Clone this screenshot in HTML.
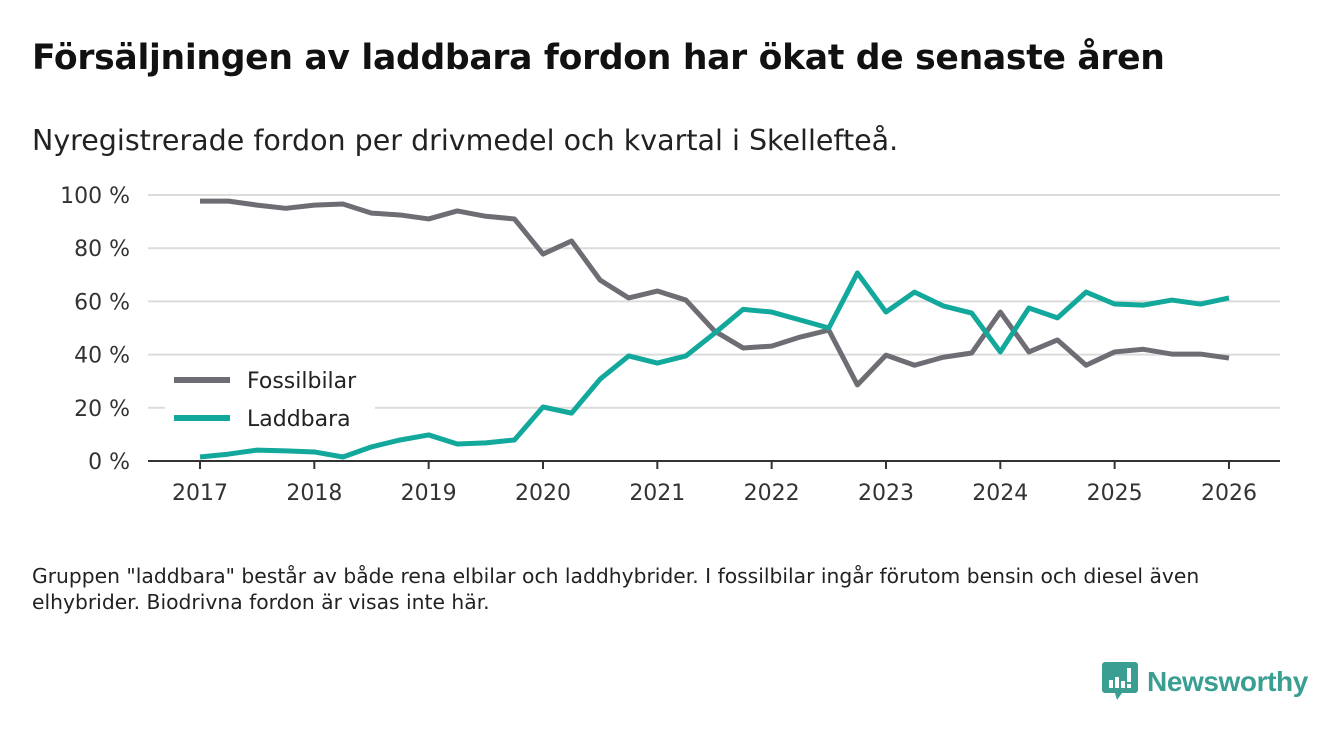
<!DOCTYPE html>
<html><head><meta charset="utf-8"><style>
body{margin:0;width:1340px;height:733px;background:#fff;font-family:"DejaVu Sans","Liberation Sans",sans-serif;color:#111;overflow:hidden;position:relative}
#title{position:absolute;left:32px;top:38px;font-size:34.6px;font-weight:bold;margin:0;letter-spacing:-0.3px}
#sub{position:absolute;left:32px;top:124px;font-size:28.5px;margin:0;color:#222}
#note{position:absolute;left:32px;top:563px;font-size:20.3px;line-height:26px;color:#222;width:1230px}
#logo{position:absolute;left:1102px;top:662px;display:flex;align-items:center}
</style></head><body>
<h1 id="title">Försäljningen av laddbara fordon har ökat de senaste åren</h1>
<p id="sub">Nyregistrerade fordon per drivmedel och kvartal i Skellefteå.</p>
<svg id="chart" width="1340" height="733" style="position:absolute;left:0;top:0"></svg>
<div id="note">Gruppen "laddbara" består av både rena elbilar och laddhybrider. I fossilbilar ingår förutom bensin och diesel även elhybrider. Biodrivna fordon är visas inte här.</div>
<div id="logo">
<svg width="36" height="40" viewBox="0 0 36 40"><path d="M3 0h30a3 3 0 0 1 3 3v25a3 3 0 0 1-3 3H20l-5 7-2-7H3a3 3 0 0 1-3-3V3a3 3 0 0 1 3-3z" fill="#3a9e93"/><rect x="7" y="18" width="4" height="8" fill="#fff"/><rect x="13" y="15" width="4" height="11" fill="#fff"/><rect x="19" y="19" width="4" height="7" fill="#fff"/><rect x="25" y="6" width="4" height="14" fill="#fff"/><rect x="25" y="22" width="4" height="4" fill="#fff"/></svg>
<span style="font-size:28px;color:#3a9e93;font-weight:bold;margin-left:9px;font-family:'Liberation Sans',sans-serif;letter-spacing:-0.4px">Newsworthy</span>
</div>
<script>
const years=[2017,2018,2019,2020,2021,2022,2023,2024,2025,2026];
const yTicks=[0,20,40,60,80,100];
const fossil=[97.7,97.7,96.2,95,96.2,96.6,93.2,92.5,91,94,92,91,77.8,82.7,68,61.3,63.9,60.5,48.9,42.5,43.2,46.6,49.2,28.6,39.8,36,39,40.6,56,41,45.5,36,41,42,40.2,40.2,38.7];
const laddbara=[1.5,2.6,4.1,3.8,3.4,1.5,5.3,7.9,9.8,6.4,6.8,7.9,20.3,18,30.8,39.5,36.8,39.5,48,57,56,53,50,70.7,56,63.5,58.3,55.6,41,57.5,53.8,63.5,59,58.6,60.5,59,61.3];
const NS='http://www.w3.org/2000/svg',svg=document.getElementById('chart');
const x=t=>200+(t-2017)*114.33, y=v=>461-v*2.66;
function el(tag,a){const e=document.createElementNS(NS,tag);for(const k in a)e.setAttribute(k,a[k]);svg.appendChild(e);return e;}
yTicks.forEach(v=>{
 if(v>0){const g=el('line',{x1:148,x2:1280,y1:y(v),y2:y(v),stroke:'#dcdcdc','stroke-width':2});
 
 }
 const t=el('text',{x:130,y:y(v)+8,'text-anchor':'end','font-size':22,fill:'#333','font-family':'DejaVu Sans,sans-serif'});
 t.textContent=v+' %';
 
 
});
const ax=el('line',{x1:148,x2:1280,y1:461,y2:461,stroke:'#333','stroke-width':2});


years.forEach(yr=>{
 const tk=el('line',{x1:x(yr),x2:x(yr),y1:461,y2:469,stroke:'#333','stroke-width':2});
 
 
 const t=el('text',{x:x(yr),y:500,'text-anchor':'middle','font-size':22,fill:'#333','font-family':'DejaVu Sans,sans-serif'});
 t.textContent=yr;
 
 
});
function line(data,color,name){
 const p=el('polyline',{points:data.map((v,i)=>x(2017+i/4)+','+y(v)).join(' '),fill:'none',stroke:color,'stroke-width':5,'stroke-linejoin':'round'});
 
 
}
line(fossil,'#6e6d74','fossilbilar-line');
line(laddbara,'#12a89b','laddbara-line');
const bg=el('rect',{x:165,y:362,width:210,height:75,fill:'#fff'});


[['Fossilbilar','#6e6d74',380],['Laddbara','#12a89b',418]].forEach(([n,c,yy])=>{
 const l=el('line',{x1:174,x2:230,y1:yy,y2:yy,stroke:c,'stroke-width':6});
 
 
 const t=el('text',{x:247,y:yy+8,'font-size':22,fill:'#222','font-family':'DejaVu Sans,sans-serif'});
 t.textContent=n;
 
 
});
</script>
</body></html>
